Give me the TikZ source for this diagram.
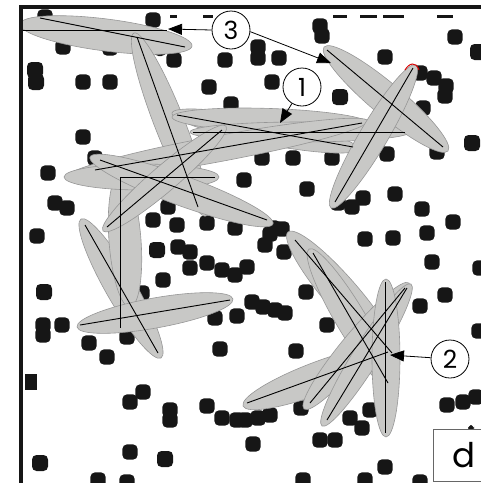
\documentclass[tikz,border=0pt]{standalone}
\usepackage{fontspec}
\setmainfont{Poppins}
\usetikzlibrary{arrows.meta}
\definecolor{blob}{RGB}{22,22,22}
\definecolor{bladegray}{RGB}{200,200,198}
\definecolor{bladeedge}{RGB}{150,150,150}
\tikzset{
  bladefill/.style={fill=bladegray, draw=bladeedge, line width=0.6pt},
  axisline/.style={draw=black, line width=0.9pt},
  callout/.style={circle, draw=black, line width=0.8pt, fill=white, minimum size=38pt, inner sep=0pt, font=\fontsize{25}{25}\selectfont},
  pointer/.style={draw=black, line width=0.8pt, -{Triangle[length=14pt,width=11pt]}},
  frameline/.style={draw=blob, line width=4pt},
  labelbox/.style={draw=black!60, line width=0.7pt, fill=white, minimum width=62pt, minimum height=52.5pt, inner sep=0pt, font=\fontsize{34}{34}\selectfont},
}
\newcommand\blade[6][]{%
  \pgfmathsetmacro\bcx{(#2+#4)/2}%
  \pgfmathsetmacro\bcy{(#3+#5)/2}%
  \pgfmathsetmacro\bang{atan2(-(#5-#3),#4-#2)}%
  \pgfmathsetmacro\blen{veclen(#4-#2,#5-#3)/2}%
  \path[bladefill,#1,rotate around={\bang:(\bcx,\bcy)}] (\bcx,\bcy) ellipse [x radius=\blen, y radius=#6];
}
\newcommand\dt[3][7.6]{\fill[blob, rounded corners=4.5pt] ($(#2,#3)+(-#1,-#1)$) rectangle ($(#2,#3)+(#1,#1)$);}
\usetikzlibrary{calc}
\newcommand\dash[2]{\fill[blob] (#1,14.5) rectangle (#2,17.5);}
\begin{document}
\begin{tikzpicture}[x=1pt,y=-1pt]
\useasboundingbox (0,0) rectangle (481,483);
% ---- dots ----
\dash{203}{213}\dash{333}{347}\dash{360}{377}\dash{383}{404}\dash{437}{453}\dash{170}{177}
\dt{45}{17}\dt{153}{20}\dt{320}{26}\dt{322}{36}\dt{455}{37}\dt[8]{478}{52}
\dt{63}{47}\dt{110}{48}\dt[6]{160}{50}\dt{174}{60}\dt{225}{60}
\dt{258}{47}\dt{258}{58}\dt{279}{58}\dt{385}{57}
\dt[8]{35}{70}\dt[8]{36}{82}\dt{83}{82}\dt{110}{82}\dt{209}{87}\dt{272}{82}\dt[8]{340}{97}
\dt{231}{104}\dt{420}{73}\dt{434}{78}\dt{446}{86}\dt{445}{96}\dt{423}{108}
\dt{83}{137}\dt{95}{158}\dt[8]{472}{143}\dt{437}{152}\dt{387}{154}
\dt{262}{158}\dt{293}{158}\dt{332}{158}\dt{358}{158}
\dt{48}{173}\dt{244}{180}\dt{307}{189}\dt{395}{194}
\dt{338}{203}\dt{352}{207}\dt{363}{198}\dt{422}{209}\dt{453}{222}
\dt{55}{203}\dt{67}{208}
\dt{153}{220}\dt{168}{207}\dt{177}{225}\dt{207}{223}\dt{235}{228}\dt{273}{228}
\dt{37}{236}\dt{270}{234}\dt{282}{229}\dt{365}{239}\dt{393}{238}\dt{427}{233}
\dt[8]{157}{250}\dt{178}{247}\dt{190}{252}\dt{190}{268}
\dt{207}{263}\dt{222}{270}\dt{235}{275}\dt{163}{280}
\dt[8]{44}{292}\dt{142}{293}\dt{62}{325}\dt{43}{325}\dt{43}{335}
\dt{89}{343}\dt{107}{357}\dt{127}{337}\dt{215}{318}\dt{220}{349}\dt{237}{316}
\fill[blob] (25,374) rectangle (37,390);
\dt{130}{402}\dt{143}{392}\dt{170}{410}\dt{170}{420}
\dt{207}{406}\dt{222}{418}\dt{237}{420}
\dt{130}{452}\dt[8]{165}{459}\dt[8]{40}{463}\dt{98}{480}\dt{127}{482}
\dt{265}{245}\dt{284}{252}\dt{247}{267}\dt{306}{292}\dt{432}{262}
\dt{252}{302}\dt{263}{307}\dt{275}{310}\dt{285}{313}\dt{327}{325}
\dt{479}{331}\dt{480}{268}\dt{420}{306}\dt{445}{295}\dt{296}{351}
\dt{447}{405}\dt{463}{402}\dt{476}{397}
\dt{245}{420}\dt{258}{418}\dt{270}{415}\dt{301}{408}
\dt{350}{418}\dt{362}{428}\dt{370}{410}
\dt{253}{444}\dt{320}{440}\dt{335}{440}\dt{385}{467}
\dt{303}{480}\dt{365}{480}\dt{420}{482}\dt[3]{471}{428}
% ---- blades ----
\blade{20}{24}{192}{46}{16}
\blade{134}{33}{206}{216}{15}
\blade{81}{219}{161}{358}{15}
\blade{120}{174}{130}{307}{16}
\blade{77}{327}{233}{299}{15}
\blade{172}{113}{358}{149}{13}
\blade{172}{117}{370}{124}{12}
\blade{190}{132}{410}{132}{10}
\blade{66}{177}{368}{121}{13}
\blade{64}{177}{219}{177}{13}
\blade{90}{157}{273}{224}{15}
\blade{103}{231}{226}{126}{13}
\blade{324}{47}{448}{151}{16}
\blade{416}{65}{331}{208}{14}
\blade{288}{232}{398}{360}{17}
\blade{309}{249}{393}{390}{15}
\blade{243}{406}{395}{349}{16}
\blade{304}{409}{409}{283}{14}
\blade{322}{426}{411}{284}{13}
\blade{386}{279}{386}{437}{14}
% red tip of the upper right blade
\draw[red!85!black, line width=1pt] (405,70) .. controls (409,63) and (416,61) .. (419,70);
% ---- axes ----
\draw[axisline] (22,30) -- (167,30);
\draw[axisline] (40,18) -- (185,47);
\draw[axisline] (137,37) -- (198,207);
\draw[axisline] (177,115) -- (353,147);
\draw[axisline] (193,132) -- (405,132);
\draw[axisline] (95,170) -- (362,123);
\draw[axisline] (215,177) -- (120,177) -- (120,328);
\draw[axisline] (100,160) -- (267,220);
\draw[axisline] (107,227) -- (222,130);
\draw[axisline] (80,325) -- (230,300);
\draw[axisline] (85,225) -- (158,353);
\draw[axisline] (327,50) -- (443,147);
\draw[axisline] (413,68) -- (335,202);
\draw[axisline] (247,403) -- (388,352);
\draw[axisline] (385,282) -- (385,433);
\draw[axisline] (295,240) -- (392,353);
\draw[axisline] (313,253) -- (388,383);
\draw[axisline] (310,403) -- (405,288);
\draw[axisline] (327,420) -- (407,288);
% ---- frame ----
\draw[frameline] (21,483) -- (21,7) -- (481,7);
% ---- callouts ----
\node[callout] (c3) at (231,30) {3};
\coordinate (t3a) at (168,29);
\coordinate (t3b) at (331,63);
\draw[pointer] (c3.west) -- (t3a);
\draw[pointer] (c3.-5) -- (t3b);
\node[callout] (c1) at (302,87) {1};
\coordinate (t1) at (280,123);
\draw[pointer] (c1) -- (t1);
\node[callout] (c2) at (450,359) {2};
\coordinate (t2) at (390,355);
\draw[pointer] (c2) -- (t2);
\node[labelbox] (dlabel) at (464,455.5) {d};
\end{tikzpicture}
\end{document}
